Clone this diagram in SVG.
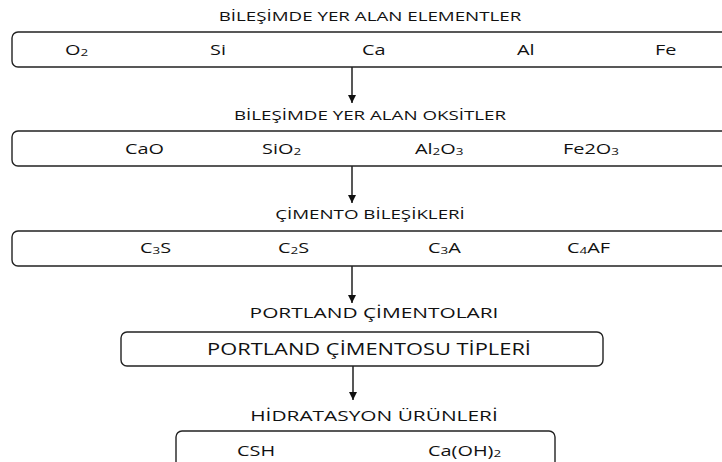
<svg xmlns="http://www.w3.org/2000/svg" width="722" height="462" viewBox="0 0 722 462">
  <defs>
    <marker id="arrow" viewBox="0 0 10 10" refX="10" refY="5" markerWidth="8" markerHeight="9" markerUnits="userSpaceOnUse" orient="auto">
      <path d="M0,0 L10,5 L0,10 z" fill="#111"/>
    </marker>
    <style>
      .box { fill: #fff; stroke: #222; stroke-width: 1.4; }
      .edge { stroke: #111; stroke-width: 1.4; fill: none; marker-end: url(#arrow); }
      text { font-family: "Open Sans", "Liberation Sans", sans-serif; fill: #111; }
      .title { font-size: 12.5px; text-anchor: middle; }
      .title2 { font-size: 15px; text-anchor: middle; }
      .item { font-size: 14px; text-anchor: start; }
      .sub { font-size: 9.5px; }
    </style>
  </defs>
  <rect width="722" height="462" fill="#fff"/>

  <!-- connectors -->
  <g id="connectors">
    <line class="edge" x1="352" y1="67" x2="352" y2="103"/>
    <line class="edge" x1="352" y1="166" x2="352" y2="203"/>
    <line class="edge" x1="352" y1="266" x2="352" y2="303"/>
    <line class="edge" x1="353" y1="366" x2="353" y2="400"/>
  </g>

  <!-- elements -->
  <g id="elements">
    <text class="title" transform="translate(370,21) scale(1.5,1)">BİLEŞİMDE YER ALAN ELEMENTLER</text>
    <rect class="box" x="12" y="32" width="730" height="35" rx="6"/>
    <text class="item" transform="translate(65,55) scale(1.42,1)">O<tspan class="sub" dy="1">2</tspan></text>
    <text class="item" transform="translate(210,55) scale(1.42,1)">Si</text>
    <text class="item" transform="translate(362,55) scale(1.42,1)">Ca</text>
    <text class="item" transform="translate(517,55) scale(1.42,1)">Al</text>
    <text class="item" transform="translate(655,55) scale(1.42,1)">Fe</text>
  </g>

  <!-- oxides -->
  <g id="oxides">
    <text class="title" transform="translate(370,120) scale(1.5,1)">BİLEŞİMDE YER ALAN OKSİTLER</text>
    <rect class="box" x="12" y="131" width="730" height="35" rx="6"/>
    <text class="item" transform="translate(125,154) scale(1.42,1)">CaO</text>
    <text class="item" transform="translate(262,154) scale(1.42,1)">SiO<tspan class="sub" dy="1">2</tspan></text>
    <text class="item" transform="translate(415,154) scale(1.42,1)">Al<tspan class="sub" dy="1">2</tspan><tspan dy="-1">O</tspan><tspan class="sub" dy="1">3</tspan></text>
    <text class="item" transform="translate(563,154) scale(1.42,1)">Fe2O<tspan class="sub" dy="1">3</tspan></text>
  </g>

  <!-- cement compounds -->
  <g id="compounds">
    <text class="title" transform="translate(370,219) scale(1.5,1)">ÇİMENTO BİLEŞİKLERİ</text>
    <rect class="box" x="12" y="231" width="730" height="35" rx="6"/>
    <text class="item" transform="translate(140,253) scale(1.42,1)">C<tspan class="sub" dy="1">3</tspan><tspan dy="-1">S</tspan></text>
    <text class="item" transform="translate(278,253) scale(1.42,1)">C<tspan class="sub" dy="1">2</tspan><tspan dy="-1">S</tspan></text>
    <text class="item" transform="translate(428,253) scale(1.42,1)">C<tspan class="sub" dy="1">3</tspan><tspan dy="-1">A</tspan></text>
    <text class="item" transform="translate(567,253) scale(1.42,1)">C<tspan class="sub" dy="1">4</tspan><tspan dy="-1">AF</tspan></text>
  </g>

  <!-- portland cements -->
  <g id="portland">
    <text class="title2" transform="translate(374,318) scale(1.39,1)">PORTLAND ÇİMENTOLARI</text>
    <rect class="box" x="121" y="332" width="482" height="34" rx="6"/>
    <text class="title2" style="font-size:15.5px" transform="translate(369,355) scale(1.41,1)">PORTLAND ÇİMENTOSU TİPLERİ</text>
  </g>

  <!-- hydration products -->
  <g id="hydration">
    <text class="title2" transform="translate(374,421) scale(1.39,1)">HİDRATASYON ÜRÜNLERİ</text>
    <rect class="box" x="176" y="431" width="379" height="40" rx="6"/>
    <text class="item" transform="translate(237,456) scale(1.42,1)">CSH</text>
    <text class="item" transform="translate(428,456) scale(1.42,1)">Ca(OH)<tspan class="sub" dy="1">2</tspan></text>
  </g>
</svg>
